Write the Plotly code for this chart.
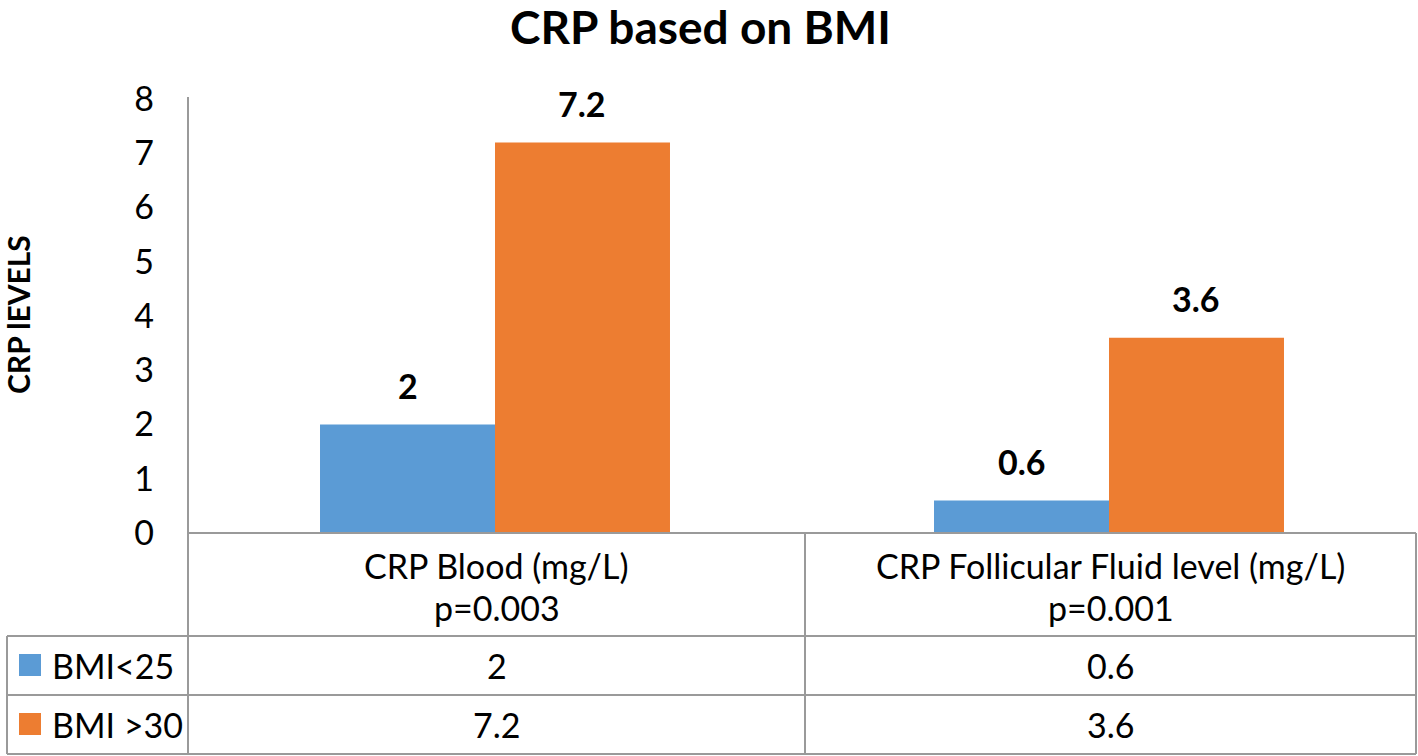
import plotly.graph_objects as go

categories = ["CRP Blood (mg/L)", "CRP Follicular Fluid level (mg/L)"]
p_values = ["p=0.003", "p=0.001"]
series_names = ["BMI<25", "BMI >30"]
bmi_lt25 = [2, 0.6]
bmi_gt30 = [7.2, 3.6]
colors = ["#5B9BD5", "#ED7D31"]
y_ticks = [0, 1, 2, 3, 4, 5, 6, 7, 8]

W, H = 1418, 756
FONT = "Lato"

# layout geometry (pixels)
x_left, x_right = 188, 1416
y_zero, y_top = 533, 99
row_lines = [636, 695, 754]
x_mid = 805
x_tab_left = 7

def px(x):
    return x / W

def py(y):
    return (H - y) / H

fig = go.Figure()
series = [bmi_lt25, bmi_gt30]
for name, vals, col in zip(series_names, series, colors):
    fig.add_trace(go.Bar(x=categories, y=vals, name=name, marker_color=col,
                         marker_line_width=0, showlegend=False, hoverinfo="skip"))

bargap = 0.43
cat_px = (x_right - x_left) / len(categories)
bar_px = cat_px * (1 - bargap) / 2

annotations = []
def ann(**kw):
    base = dict(showarrow=False, xanchor="center", yanchor="middle")
    base.update(kw)
    annotations.append(base)

TXT = 34
# data labels
for si, vals in enumerate(series):
    shift = (si - 0.5) * bar_px
    for c, v in zip(categories, vals):
        ann(x=c, y=v, xref="x", yref="y", text=f"<b>{v:g}</b>",
            xshift=shift, yshift=39,
            font=dict(family=FONT, size=34, color="#000"))

# title
ann(x=px(700), y=py(27), xref="paper", yref="paper",
    text="<b>CRP based on BMI</b>",
    font=dict(family=FONT, size=46, color="#000"))
# y-axis title
ann(x=px(18), y=py(315), xref="paper", yref="paper",
    text="<b>CRP lEVELS</b>", textangle=-90,
    font=dict(family=FONT, size=30, color="#000"))

col_centers = [(x_left + x_mid) / 2, (x_mid + x_right) / 2]
# category header cells
for cx, c, p in zip(col_centers, categories, p_values):
    ann(x=px(cx), y=py(565), xref="paper", yref="paper", text=c,
        font=dict(family=FONT, size=TXT, color="#000"))
    ann(x=px(cx), y=py(607), xref="paper", yref="paper", text=p,
        font=dict(family=FONT, size=TXT, color="#000"))

# table rows
row_centers = [665, 724]
shapes = []
for ri, (name, vals, col) in enumerate(zip(series_names, series, colors)):
    yc = row_centers[ri]
    shapes.append(dict(type="rect", xref="paper", yref="paper",
                       x0=px(19), x1=px(41), y0=py(yc - 11), y1=py(yc + 11),
                       fillcolor=col, line_width=0))
    ann(x=px(50), y=py(yc), xref="paper", yref="paper", text=name,
        xanchor="left", font=dict(family=FONT, size=TXT, color="#000"))
    for cx, v in zip(col_centers, vals):
        ann(x=px(cx), y=py(yc), xref="paper", yref="paper", text=f"{v:g}",
            font=dict(family=FONT, size=TXT, color="#000"))

line_style = dict(color="#9A9A9A", width=2)
def hline(y, x0, x1):
    shapes.append(dict(type="line", xref="paper", yref="paper", x0=px(x0), x1=px(x1),
                       y0=py(y), y1=py(y), line=line_style))
def vline(x, y0, y1):
    shapes.append(dict(type="line", xref="paper", yref="paper", x0=px(x), x1=px(x),
                       y0=py(y0), y1=py(y1), line=line_style))

hline(y_zero, x_left, x_right)
for y in row_lines:
    hline(y, x_tab_left, x_right)
vline(x_left, y_top - 2, row_lines[-1])
vline(x_mid, y_zero, row_lines[-1])
vline(x_right, y_zero, row_lines[-1])
vline(x_tab_left, row_lines[0], row_lines[-1])

fig.update_layout(
    width=W, height=H, autosize=False,
    margin=dict(l=0, r=0, t=0, b=0, pad=0),
    paper_bgcolor="white", plot_bgcolor="white",
    barmode="group", bargap=bargap, bargroupgap=0,
    showlegend=False,
    annotations=annotations, shapes=shapes,
    xaxis=dict(domain=[px(x_left), px(x_right)], showticklabels=False, automargin=False,
               showgrid=False, zeroline=False, showline=False, fixedrange=True),
    yaxis=dict(domain=[py(y_zero), py(y_top)], range=[0, 8], tickvals=y_ticks,
               automargin=False, fixedrange=True,
               showgrid=False, zeroline=False, showline=False,
               ticks="", ticklabelstandoff=33,
               tickfont=dict(family=FONT, size=34, color="#000")),
)

post = ("document.body.style.margin='0';document.body.style.overflow='hidden';"
        "var d=document.querySelector('.plotly-graph-div');"
        "d.style.position='fixed';d.style.top='0';d.style.left='0';")
fig.write_html("out.html", config={"displayModeBar": False}, post_script=post)
